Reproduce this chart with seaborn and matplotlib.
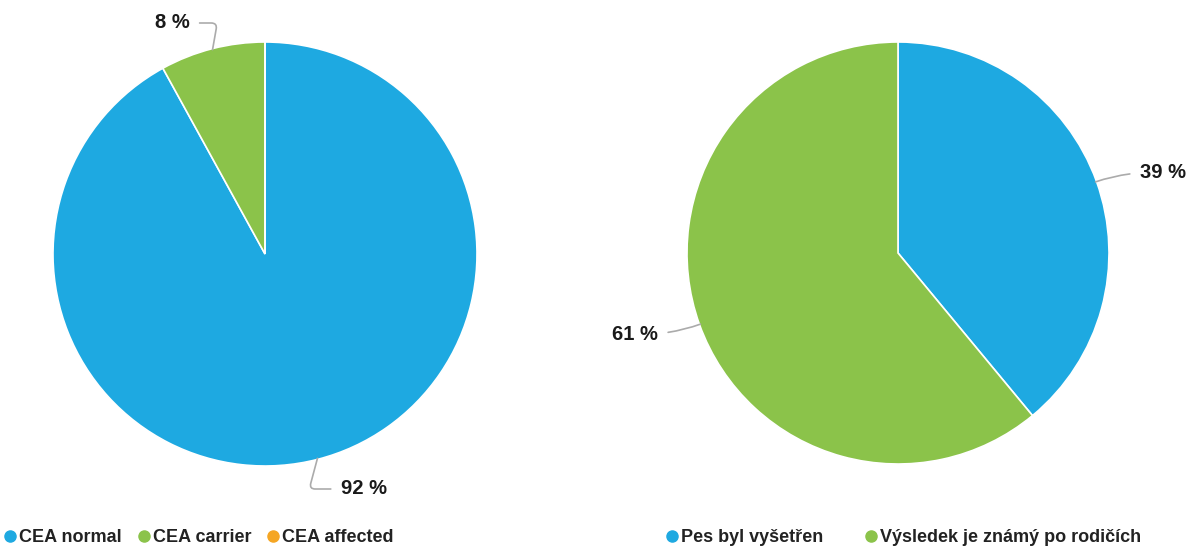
import numpy as np
import matplotlib
matplotlib.use("Agg")
import matplotlib.pyplot as plt
from matplotlib.lines import Line2D
import seaborn as sns

sns.set_theme(style="white")
plt.rcParams['font.family'] = ['Liberation Sans', 'DejaVu Sans']

# ---- data ----
left_labels = ["CEA normal", "CEA carrier", "CEA affected"]
left_values = [92, 8, 0]
right_labels = ["Pes byl vyšetřen", "Výsledek je známý po rodičích"]
right_values = [39, 61]

BLUE = "#1EA9E1"
GREEN = "#8BC34A"
ORANGE = "#F5A623"
left_colors = [BLUE, GREEN, ORANGE]
right_colors = [BLUE, GREEN]

W, H = 1202, 547
fig = plt.figure(figsize=(W / 100, H / 100), dpi=100)
fig.patch.set_facecolor("white")


def pie_axes(cx, cy, r):
    return fig.add_axes([(cx - r) / W, (H - cy - r) / H, 2 * r / W, 2 * r / H])


def draw_pie(ax, values, colors, label_specs):
    wedges, _ = ax.pie(values, colors=colors, startangle=90, counterclock=False,
                       wedgeprops=dict(edgecolor="white", linewidth=1.2))
    ax.set_xlim(-1, 1)
    ax.set_ylim(-1, 1)
    ax.set_aspect("equal")
    ax.axis("off")
    for w, v in zip(wedges, values):
        if v <= 0:
            continue
        ang = np.deg2rad((w.theta1 + w.theta2) / 2)
        x, y = np.cos(ang), np.sin(ang)
        tx, ty, conn = label_specs[v]
        ax.annotate(f"{v} %", xy=(x * 0.995, y * 0.995), xytext=(tx, ty),
                    ha="center", va="center", fontsize=14.5, fontweight="bold",
                    color="#1a1a1a", annotation_clip=False,
                    arrowprops=dict(arrowstyle="-", color="#ababab", lw=1.2,
                                    connectionstyle=conn, shrinkA=5, shrinkB=0))


# left pie
r = 212
axL = pie_axes(265, 254, r)
draw_pie(axL, left_values, left_colors, {
    8: ((172 - 265) / r, (254 - 23) / r, "angle,angleA=0,angleB=80,rad=6"),
    92: ((364 - 265) / r, (254 - 489) / r, "angle,angleA=180,angleB=75,rad=6"),
})

# right pie
r2 = 211
axR = pie_axes(898, 253, r2)
draw_pie(axR, right_values, right_colors, {
    39: ((1163 - 898) / r2, (253 - 173) / r2, "arc3,rad=0.1"),
    61: ((635 - 898) / r2, (253 - 334) / r2, "arc3,rad=0.1"),
})


def legend(labels, colors, x, spacing):
    handles = [Line2D([0], [0], marker="o", linestyle="none", markersize=8,
                      markerfacecolor=c, markeredgecolor=c) for c in colors]
    leg = fig.legend(handles, labels, loc="center left",
                     bbox_to_anchor=(x / W, (H - 538) / H), ncol=len(labels),
                     frameon=False, handlelength=0.6, handletextpad=0.2,
                     columnspacing=spacing, borderpad=0, borderaxespad=0,
                     prop=dict(size=13, weight="bold"))
    for t in leg.get_texts():
        t.set_color("#222222")
    return leg


legend(left_labels, left_colors, 5, 0.9)
legend(right_labels, right_colors, 667, 2.3)

fig.savefig("out.png", dpi=100, facecolor="white")
